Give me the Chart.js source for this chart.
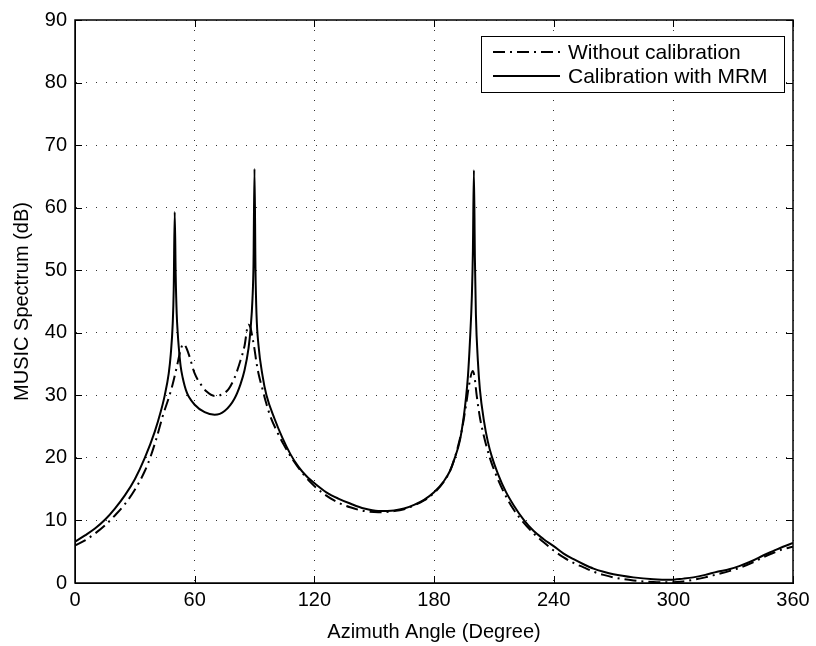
<!DOCTYPE html>
<html>
<head>
<meta charset="utf-8">
<title>MUSIC Spectrum</title>
<script src="https://cdn.jsdelivr.net/npm/chart.js@4.4.1/dist/chart.umd.min.js"></script>
<style>
  html, body { margin: 0; padding: 0; background: #fff; }
  #wrap { width: 816px; height: 646px; }
</style>
</head>
<body>
<div id="wrap"><canvas id="chart" width="816" height="646"></canvas></div>
<script>
// Tick values
const xTickValues = [0, 60, 120, 180, 240, 300, 360];
const yTickValues = [0, 10, 20, 30, 40, 50, 60, 70, 80, 90];

// "Without calibration" (dash-dot)
const angleRaw = [0, 5, 10, 15, 20, 25, 30, 35, 38, 41, 44, 47, 49, 51, 53, 54.3, 55.5, 57, 60, 63, 66, 70, 74, 77, 80, 83, 85, 86.9,
  88, 89, 90, 91, 92, 94, 96, 98, 101, 104.5, 109, 113.7, 119, 124.5, 131, 138, 145, 152, 160, 165, 170, 175, 180, 185, 188, 190,
  192, 194, 196, 197.5, 199.4, 200.3, 201.4, 203, 205, 208, 212, 216, 220, 224, 230, 235, 240, 245, 250, 255, 260, 265, 270, 280,
  290, 298, 305, 310, 316, 322, 328, 333, 340, 345, 350, 355, 360];
const spectrumRaw = [6.0, 6.8, 7.9, 9.2, 10.8, 12.6, 14.9, 17.9, 20.3, 23.3, 26.7, 29.6, 31.8, 34.5, 37.3, 38.2, 37.8, 36.6, 33.5, 31.8, 30.6, 29.9, 30.2, 31.0, 32.8, 35.6, 37.9, 41.3,
  40.8, 39.2, 37.4, 35.2, 33.5, 31.0, 28.6, 26.6, 24.4, 22.2, 19.8, 17.7, 15.8, 14.3, 13.0, 12.1, 11.5, 11.3, 11.5, 11.8, 12.4, 13.2, 14.4, 16.2, 17.9, 19.6,
  21.8, 24.5, 28.3, 31.5, 33.9, 33.0, 30.0, 26.5, 23.5, 20.0, 16.6, 13.9, 11.7, 10.0, 7.9, 6.5, 5.2, 4.1, 3.2, 2.5, 1.8, 1.3, 0.9, 0.4,
  0.15, 0.1, 0.25, 0.5, 0.9, 1.4, 1.9, 2.4, 3.3, 4.1, 4.8, 5.4, 5.8];

// "Calibration with MRM" (solid)
const angleMrm = [0, 5, 10, 15, 20, 25, 30, 35, 40, 43, 45, 47, 48, 49, 49.5, 50, 50.5, 51, 51.5, 52, 53, 54, 55, 56, 57, 60, 65, 70, 75, 80,
  83, 85, 87, 88, 89, 89.5, 90, 90.5, 91, 92, 94, 96, 100, 104, 108, 112, 116, 121, 126, 132, 138, 145, 152, 160, 165, 170, 175, 180,
  185, 188, 190, 193, 195, 196, 197, 198, 199, 199.5, 200, 200.5, 201, 202, 203, 205, 207, 209, 212, 216, 220, 225, 230, 235, 240,
  245, 250, 255, 260, 265, 270, 280, 290, 298, 305, 310, 316, 322, 328, 333, 340, 345, 350, 355, 360];
const spectrumMrm = [6.6, 7.6, 8.7, 10.1, 11.9, 14.0, 16.6, 20.0, 24.2, 27.4, 30.0, 33.5, 36.5, 41.5, 47, 59.3, 49, 43, 40, 37.8, 34.6, 32.8, 31.5, 30.5, 29.8, 28.5, 27.3, 26.9, 27.5, 29.5,
  31.8, 34.0, 37.5, 40.5, 45.5, 51, 66.2, 50, 43, 38, 33.2, 30.0, 26.3, 23.2, 20.6, 18.6, 17.1, 15.7, 14.5, 13.5, 12.7, 11.9, 11.5, 11.6, 11.9, 12.5, 13.3, 14.5,
  16.3, 17.9, 19.6, 22.8, 26.8, 29.5, 33, 38.5, 46, 53, 66, 52, 43, 35.5, 31, 26, 22.6, 20.2, 17.5, 14.6, 12.4, 10.1, 8.3, 7.0, 5.9,
  4.7, 3.8, 3.0, 2.3, 1.8, 1.4, 0.9, 0.6, 0.5, 0.7, 0.9, 1.3, 1.8, 2.2, 2.7, 3.6, 4.4, 5.1, 5.8, 6.4];

const labels = ['Without calibration', 'Calibration with MRM'];

const SANS = '"Liberation Sans", Arial, Helvetica, sans-serif';

const pts = (xs, ys) => xs.map((x, i) => ({ x, y: ys[i] }));

// box round the plot + inward tick marks
const frame = {
  id: 'frame',
  afterDraw(chart){
    const { ctx, chartArea: a, scales } = chart;
    ctx.save();
    ctx.strokeStyle = '#000';
    ctx.lineWidth = 1;
    const len = 7;
    ctx.beginPath();
    for(const v of xTickValues){
      const px = Math.round(scales.x.getPixelForValue(v)) + 0.5;
      ctx.moveTo(px, a.bottom); ctx.lineTo(px, a.bottom - len);
      ctx.moveTo(px, a.top); ctx.lineTo(px, a.top + len);
    }
    for(const v of yTickValues){
      const py = Math.round(scales.y.getPixelForValue(v)) + 0.5;
      ctx.moveTo(a.left, py); ctx.lineTo(a.left + len, py);
      ctx.moveTo(a.right, py); ctx.lineTo(a.right - len, py);
    }
    ctx.stroke();
    ctx.lineWidth = 1.5;
    ctx.strokeRect(a.left, a.top, a.right - a.left, a.bottom - a.top);
    ctx.restore();
  }
};

// matlab style legend box in the top right corner
const boxLegend = {
  id: 'boxLegend',
  afterDraw(chart){
    const { ctx, chartArea: a } = chart;
    const x0 = a.right - 312, y0 = a.top + 16, w = 303, h = 56;
    ctx.save();
    ctx.fillStyle = '#fff';
    ctx.fillRect(x0, y0, w, h);
    ctx.strokeStyle = '#000';
    ctx.lineWidth = 1;
    ctx.strokeRect(x0 + 0.5, y0 + 0.5, w, h);
    ctx.font = '21px ' + SANS;
    ctx.textBaseline = 'middle';
    ctx.fillStyle = '#000';
    chart.data.datasets.forEach((ds, i) => {
      const y = y0 + 16 + i * 24;
      ctx.beginPath();
      ctx.setLineDash(ds.borderDash || []);
      ctx.lineWidth = ds.borderWidth;
      ctx.moveTo(x0 + 12, y); ctx.lineTo(x0 + 79, y);
      ctx.stroke();
      ctx.setLineDash([]);
      ctx.fillText(ds.label, x0 + 87, y + 1);
    });
    ctx.restore();
  }
};

new Chart(document.getElementById('chart'), {
  type: 'line',
  data: {
    datasets: [
      { label: labels[0], data: pts(angleRaw, spectrumRaw), borderColor: '#000', borderWidth: 2,
        borderDash: [12, 5, 2, 5], pointRadius: 0, cubicInterpolationMode: 'monotone' },
      { label: labels[1], data: pts(angleMrm, spectrumMrm), borderColor: '#000', borderWidth: 2,
        pointRadius: 0, cubicInterpolationMode: 'monotone' }
    ]
  },
  options: {
    responsive: false,
    animation: false,
    layout: { padding: { top: 17, right: 23, left: 0, bottom: 0 } },
    plugins: { legend: { display: false }, tooltip: { enabled: false } },
    scales: {
      x: {
        type: 'linear', min: 0, max: 360,
        afterBuildTicks: s => { s.ticks = xTickValues.map(v => ({ value: v })); },
        afterFit: s => { s.height = 63; },
        ticks: { color: '#000', font: { family: SANS, size: 20 }, padding: 5, maxRotation: 0 },
        grid: { color: '#333', lineWidth: 1, drawTicks: false },
        border: { display: true, color: '#000', dash: [1, 9] },
        title: { display: true, text: 'Azimuth Angle (Degree)', color: '#000',
          font: { family: SANS, size: 20 }, padding: { top: 2, bottom: 2 } }
      },
      y: {
        type: 'linear', min: 0, max: 90,
        afterBuildTicks: s => { s.ticks = yTickValues.map(v => ({ value: v })); },
        afterFit: s => { s.width = 75; },
        ticks: { color: '#000', font: { family: SANS, size: 20 }, padding: 8 },
        grid: { color: '#333', lineWidth: 1, drawTicks: false },
        border: { display: true, color: '#000', dash: [1, 9] },
        title: { display: true, text: 'MUSIC Spectrum (dB)', color: '#000',
          font: { family: SANS, size: 20 }, padding: { top: 10, bottom: 0 } }
      }
    }
  },
  plugins: [frame, boxLegend]
});
</script>
</body>
</html>
